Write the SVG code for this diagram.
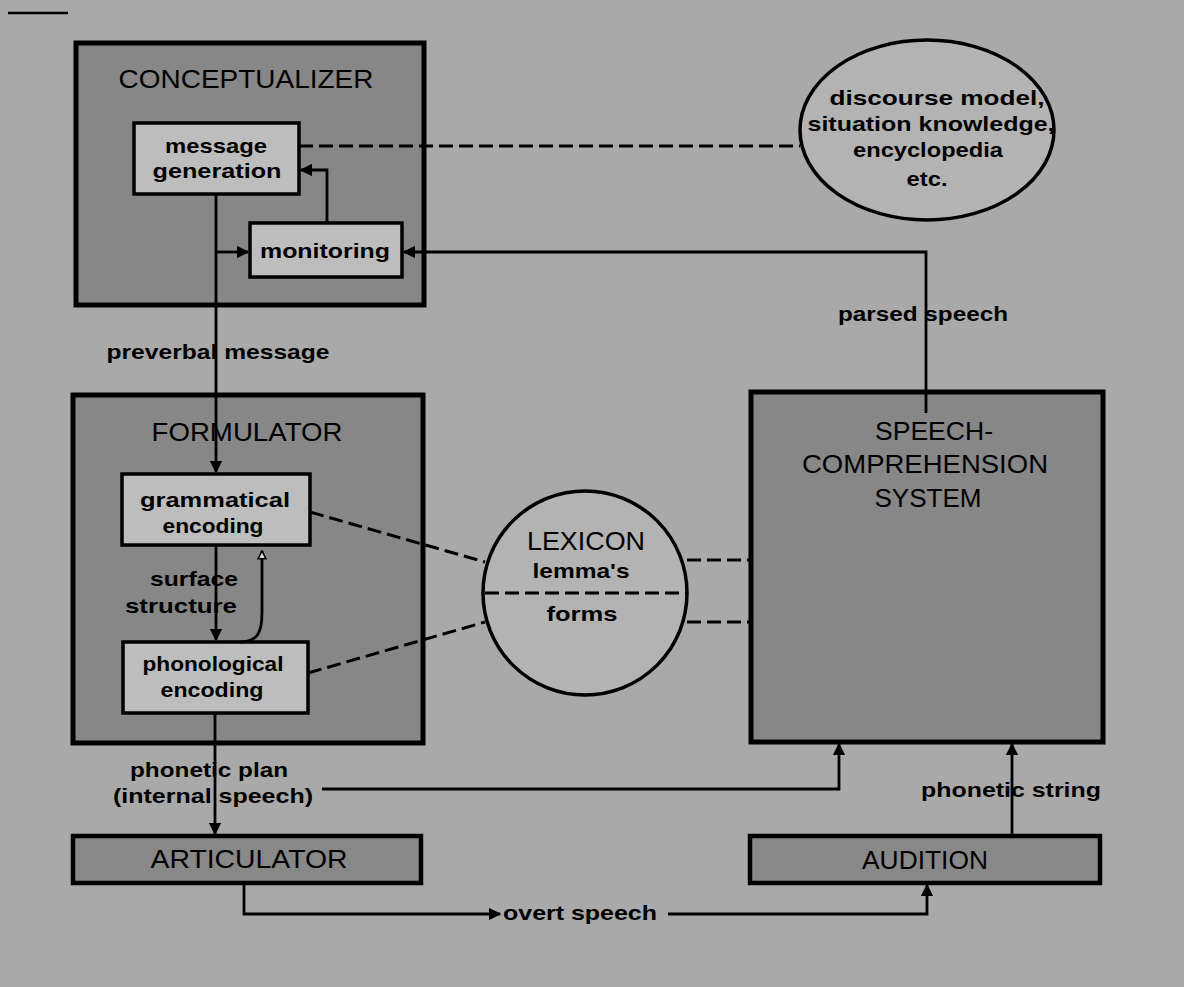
<svg xmlns="http://www.w3.org/2000/svg" width="1184" height="987" viewBox="0 0 1184 987">
<style>
  .bg { fill: #a9a9a9; }
  .outer { fill: #878787; stroke: #000; stroke-width: 5; }
  .inner { fill: #bdbdbd; stroke: #000; stroke-width: 3.5; }
  .small { fill: #888888; stroke: #000; stroke-width: 4.5; }
  .store { fill: #b3b3b3; stroke: #000; stroke-width: 3.5; }
  .line { fill: none; stroke: #000; stroke-width: 2.8; }
  .dash { fill: none; stroke: #000; stroke-width: 3; stroke-dasharray: 14 6; }
  .title { font-family: "Liberation Sans", Arial, sans-serif; font-size: 25px; fill: #000; text-anchor: middle; }
  .lbl { font-family: "Liberation Sans", Arial, sans-serif; font-size: 21px; font-weight: bold; fill: #000; text-anchor: middle; }
</style>
<defs>
  <marker id="arr" viewBox="0 0 10 10" refX="9" refY="5" markerWidth="4.5" markerHeight="4.5" orient="auto" markerUnits="strokeWidth">
    <path d="M0,0 L10,5 L0,10 Z" fill="#000"/>
  </marker>
  <marker id="open" viewBox="0 0 10 10" refX="9" refY="5" markerWidth="3.5" markerHeight="3.5" orient="auto" markerUnits="strokeWidth">
    <path d="M1,1 L9,5 L1,9 Z" fill="#ddd" stroke="#000" stroke-width="1.6"/>
  </marker>
</defs>

<rect class="bg" x="0" y="0" width="1184" height="987"/>
<line x1="8" y1="13" x2="68" y2="13" stroke="#000" stroke-width="2.5"/>

<g id="conceptualizer">
  <rect class="outer" x="76" y="43" width="348" height="262"/>
  <text class="title" x="246" y="88" textLength="255" lengthAdjust="spacingAndGlyphs">CONCEPTUALIZER</text>
</g>
<g id="message-generation">
  <rect class="inner" x="134" y="123" width="165" height="71"/>
  <text class="lbl" x="216" y="153" textLength="102" lengthAdjust="spacingAndGlyphs">message</text>
  <text class="lbl" x="217" y="178" textLength="129" lengthAdjust="spacingAndGlyphs">generation</text>
</g>
<g id="monitoring">
  <rect class="inner" x="250" y="223" width="152" height="54"/>
  <text class="lbl" x="325" y="258" textLength="130" lengthAdjust="spacingAndGlyphs">monitoring</text>
</g>
<g id="knowledge">
  <ellipse class="store" cx="927" cy="130" rx="127" ry="90"/>
  <text class="lbl" x="937" y="105" textLength="215" lengthAdjust="spacingAndGlyphs">discourse model,</text>
  <text class="lbl" x="931" y="131" textLength="247" lengthAdjust="spacingAndGlyphs">situation knowledge,</text>
  <text class="lbl" x="928" y="157" textLength="150" lengthAdjust="spacingAndGlyphs">encyclopedia</text>
  <text class="lbl" x="927" y="186" textLength="41" lengthAdjust="spacingAndGlyphs">etc.</text>
</g>
<g id="formulator">
  <rect class="outer" x="73" y="395" width="350" height="348"/>
  <text class="title" x="247" y="441" textLength="191" lengthAdjust="spacingAndGlyphs">FORMULATOR</text>
</g>
<g id="grammatical-encoding">
  <rect class="inner" x="122" y="474" width="188" height="71"/>
  <text class="lbl" x="215" y="507" textLength="150" lengthAdjust="spacingAndGlyphs">grammatical</text>
  <text class="lbl" x="213" y="533" textLength="101" lengthAdjust="spacingAndGlyphs">encoding</text>
</g>
<g id="phonological-encoding">
  <rect class="inner" x="123" y="642" width="185" height="71"/>
  <text class="lbl" x="213" y="671" textLength="141" lengthAdjust="spacingAndGlyphs">phonological</text>
  <text class="lbl" x="212" y="697" textLength="103" lengthAdjust="spacingAndGlyphs">encoding</text>
</g>
<g id="lexicon">
  <circle class="store" cx="585" cy="593" r="102"/>
  <line class="dash" x1="485" y1="593" x2="686" y2="593"/>
  <text class="title" x="586" y="550" textLength="118" lengthAdjust="spacingAndGlyphs">LEXICON</text>
  <text class="lbl" x="581" y="578" textLength="97" lengthAdjust="spacingAndGlyphs">lemma's</text>
  <text class="lbl" x="582" y="621" textLength="71" lengthAdjust="spacingAndGlyphs">forms</text>
</g>
<g id="speech-comprehension">
  <rect class="outer" x="751" y="392" width="352" height="350"/>
  <text class="title" x="934" y="440" textLength="118" lengthAdjust="spacingAndGlyphs">SPEECH-</text>
  <text class="title" x="925" y="473" textLength="246" lengthAdjust="spacingAndGlyphs">COMPREHENSION</text>
  <text class="title" x="928" y="507" textLength="107" lengthAdjust="spacingAndGlyphs">SYSTEM</text>
</g>
<g id="articulator">
  <rect class="small" x="73" y="836" width="348" height="47"/>
  <text class="title" x="249" y="868" textLength="197" lengthAdjust="spacingAndGlyphs">ARTICULATOR</text>
</g>
<g id="audition">
  <rect class="small" x="750" y="836" width="350" height="47"/>
  <text class="title" x="925" y="869" textLength="126" lengthAdjust="spacingAndGlyphs">AUDITION</text>
</g>

<g id="connectors">
  <path class="line" d="M216,194 V472" marker-end="url(#arr)"/>
  <path class="line" d="M216,252 H248" marker-end="url(#arr)"/>
  <path class="line" d="M327,223 V170 H301" marker-end="url(#arr)"/>
  <path class="dash" d="M299,146 H800"/>
  <path class="line" d="M926,413 V252 H404" marker-end="url(#arr)"/>
  <path class="line" d="M216,545 V640" marker-end="url(#arr)"/>
  <path class="line" d="M240,642 C258,642 262,632 262,612 V551" marker-end="url(#open)"/>
  <path class="dash" d="M310,512 L485,562"/>
  <path class="dash" d="M308,673 L485,622"/>
  <path class="dash" d="M687,560 H751"/>
  <path class="dash" d="M687,622 H751"/>
  <path class="line" d="M215,713 V834" marker-end="url(#arr)"/>
  <path class="line" d="M322,789 H839 V744" marker-end="url(#arr)"/>
  <path class="line" d="M1012,836 V744" marker-end="url(#arr)"/>
  <path class="line" d="M244,883 V914 H500" marker-end="url(#arr)"/>
  <path class="line" d="M668,914 H927 V885" marker-end="url(#arr)"/>
  <text class="lbl" x="218" y="359" textLength="223" lengthAdjust="spacingAndGlyphs">preverbal message</text>
  <text class="lbl" x="194" y="586" textLength="88" lengthAdjust="spacingAndGlyphs">surface</text>
  <text class="lbl" x="181" y="613" textLength="112" lengthAdjust="spacingAndGlyphs">structure</text>
  <text class="lbl" x="923" y="321" textLength="170" lengthAdjust="spacingAndGlyphs">parsed speech</text>
  <text class="lbl" x="209" y="777" textLength="158" lengthAdjust="spacingAndGlyphs">phonetic plan</text>
  <text class="lbl" x="213" y="803" textLength="200" lengthAdjust="spacingAndGlyphs">(internal speech)</text>
  <text class="lbl" x="1011" y="797" textLength="180" lengthAdjust="spacingAndGlyphs">phonetic string</text>
  <text class="lbl" x="580" y="920" textLength="154" lengthAdjust="spacingAndGlyphs">overt speech</text>
</g>
</svg>
